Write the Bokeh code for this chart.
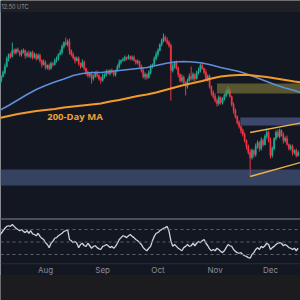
from datetime import datetime, timedelta
from bokeh.plotting import figure
from bokeh.models import Range1d, BoxAnnotation, Label, Span, ColumnDataSource
from bokeh.embed import file_html
from bokeh.resources import INLINE
from bokeh.core.properties import value

# ---------------- data (price in chart units) ----------------
first_day = datetime(2024, 7, 7)
first_open = 133
closes = [
    137, 141, 145, 151, 159, 163, 161, 167, 165, 168,
    166, 163, 165, 167, 162, 164, 161, 165, 160, 163,
    159, 162, 157, 153, 155, 150, 152, 149, 154, 153,
    157, 159, 163, 165, 171, 175, 173, 176, 167, 163,
    160, 157, 159, 154, 151, 155, 149, 145, 142, 144,
    139, 141, 145, 142, 139, 137, 141, 143, 146, 144,
    147, 145, 143, 147, 151, 155, 157, 158, 160, 159,
    161, 159, 160, 157, 155, 156, 151, 147, 141, 143,
    140, 145, 151, 153, 159, 163, 167, 173, 177, 180,
    177, 175, 172, 147, 151, 155, 149, 143, 137, 140,
    135, 131, 137, 141, 139, 143, 139, 145, 147, 152,
    149, 145, 139, 141, 131, 125, 121, 117, 114, 120,
    115, 118, 122, 125, 127, 121, 113, 107, 101, 95,
    91, 87, 83, 77, 71, 65, 60, 67, 63, 71,
    75, 69, 77, 73, 81, 85, 77, 62, 69, 79,
    85, 81, 87, 83, 77, 79, 73, 69, 71, 65,
    67, 62, 65,
]
upper_wicks = [
    2, 1, 2, 3, 2, 1, 2, 8, 2, 1,
    2, 1, 3, 2, 1, 2, 3, 1, 2, 2,
    1, 2, 2, 1, 3, 2, 1, 2, 2, 1,
    2, 2, 1, 3, 2, 1, 5, 2, 3, 1,
    2, 1, 2, 2, 1, 3, 2, 1, 2, 1,
    2, 2, 1, 2, 1, 2, 3, 1, 2, 2,
    1, 2, 2, 1, 2, 3, 1, 2, 2, 1,
    2, 1, 2, 2, 1, 2, 1, 2, 3, 2,
    1, 2, 2, 1, 2, 3, 2, 1, 2, 4,
    2, 3, 2, 2, 3, 1, 2, 2, 1, 3,
    2, 1, 2, 3, 10, 2, 1, 2, 3, 2,
    2, 1, 3, 2, 2, 1, 2, 3, 2, 2,
    1, 2, 2, 3, 4, 2, 1, 2, 2, 1,
    2, 1, 2, 2, 1, 2, 3, 2, 1, 3,
    2, 1, 3, 2, 2, 4, 2, 3, 2, 1,
    2, 3, 2, 1, 2, 2, 3, 1, 2, 2,
    1, 2, 2,
]
lower_wicks = [
    2, 2, 1, 2, 1, 3, 2, 1, 2, 2,
    1, 2, 2, 1, 3, 2, 1, 2, 2, 1,
    2, 1, 2, 3, 1, 2, 2, 2, 1, 2,
    1, 2, 2, 1, 2, 2, 1, 2, 4, 2,
    2, 3, 1, 2, 2, 1, 2, 3, 2, 2,
    5, 2, 1, 2, 2, 3, 1, 2, 2, 1,
    2, 1, 2, 2, 1, 2, 2, 1, 2, 2,
    1, 2, 2, 1, 2, 2, 1, 2, 2, 3,
    2, 1, 2, 2, 1, 2, 2, 1, 2, 2,
    1, 2, 2, 30, 2, 2, 1, 3, 2, 2,
    3, 9, 2, 1, 2, 2, 3, 1, 2, 2,
    1, 2, 2, 3, 2, 3, 2, 2, 3, 2,
    2, 2, 1, 2, 2, 1, 2, 3, 2, 2,
    2, 3, 2, 2, 3, 2, 19, 2, 3, 2,
    2, 3, 2, 2, 1, 2, 2, 3, 2, 2,
    2, 1, 2, 2, 3, 2, 1, 2, 2, 3,
    2, 2, 1,
]
rsi_values = [
    60, 64, 68, 72, 75, 76, 75, 78, 75, 72,
    70, 68, 70, 67, 65, 68, 64, 68, 63, 62,
    60, 64, 59, 56, 54, 49, 46, 41, 48, 51,
    56, 57, 60, 62, 64, 67, 68, 70, 54, 52,
    49, 51, 48, 41, 46, 48, 44, 43, 48, 44,
    40, 43, 44, 41, 39, 38, 43, 44, 46, 44,
    41, 43, 40, 43, 48, 54, 57, 60, 59, 57,
    60, 62, 59, 57, 54, 52, 49, 46, 41, 38,
    36, 40, 43, 52, 59, 64, 65, 68, 70, 72,
    73, 75, 67, 52, 43, 46, 43, 40, 38, 36,
    41, 43, 46, 43, 44, 48, 44, 48, 51, 49,
    52, 54, 48, 44, 39, 36, 38, 36, 40, 38,
    35, 33, 36, 41, 46, 44, 43, 38, 35, 33,
    32, 33, 30, 28, 27, 25, 24, 30, 33, 38,
    41, 38, 43, 41, 44, 48, 46, 38, 41, 43,
    46, 48, 49, 48, 44, 46, 44, 41, 40, 38,
    40, 36, 40,
]
ma_day_offsets = list(range(0, 161, 5)) + [164]
ma_100 = [107, 112, 117.5, 123, 128, 132, 135.5, 138.5, 142, 144,
          145, 145, 146, 147, 148, 149, 150, 152, 154, 155.5,
          156, 155.5, 154.5, 152.5, 150, 148, 146, 143, 139.5, 136,
          132.5, 129.5, 127, 124.5]
ma_200 = [99.5, 101.5, 103.5, 105, 106.5, 107.5, 108.5, 110, 111, 112,
          113, 114, 116, 117.5, 119.5, 121.5, 123, 125, 127.5, 130,
          132.5, 134.5, 136.5, 139, 141, 142, 142.5, 142.5, 141.5, 140.5,
          139, 137.5, 136, 135]
month_labels = ["Aug", "Sep", "Oct", "Nov", "Dec"]
month_starts = [datetime(2024, m, 1) for m in (8, 9, 10, 11, 12)]

support_zone = {"from": datetime(2024, 6, 1), "to": datetime(2025, 1, 31), "low": 32, "high": 48}
supply_zone = {"from": datetime(2024, 11, 2), "to": datetime(2025, 1, 31), "low": 124, "high": 134}
mid_zone = {"from": datetime(2024, 11, 14, 16), "to": datetime(2025, 1, 31), "low": 92, "high": 100}
trend_dates = [datetime(2024, 11, 20), datetime(2024, 12, 17, 8)]
trend_lower = [41, 55]
trend_upper = [85, 94.5]
rsi_levels = [70, 50, 30]
ma_label_date = datetime(2024, 8, 17)
ma_label_price = 101

# ---------------- derived candle table ----------------
days = [first_day + timedelta(days=i) for i in range(len(closes))]
opens = [first_open] + closes[:-1]
highs = [max(o, c) + w for o, c, w in zip(opens, closes, upper_wicks)]
lows = [min(o, c) - w for o, c, w in zip(opens, closes, lower_wicks)]
up = [c >= o for o, c in zip(opens, closes)]
UP, DOWN = "#22ab94", "#f23645"
colors = [UP if u else DOWN for u in up]
src = ColumnDataSource(dict(x=days, o=opens, c=closes, h=highs, l=lows, col=colors,
                            top=[max(o, c) for o, c in zip(opens, closes)],
                            bot=[min(o, c) for o, c in zip(opens, closes)]))
ma_dates = [first_day + timedelta(days=d) for d in ma_day_offsets]


def ms(d):
    return (d - datetime(1970, 1, 1)).total_seconds() * 1000.0


# ---------------- figure ----------------
BG = "#131722"
p = figure(width=300, height=300, x_axis_type="datetime",
           x_range=Range1d(first_day + timedelta(days=0.6), first_day + timedelta(days=163.3)),
           y_range=Range1d(-83, 217),
           x_axis_location=None, y_axis_location=None,
           toolbar_location=None, output_backend="svg", min_border=0)
p.extra_y_ranges = {"rsi": Range1d(-43.6, 436.4), "px": Range1d(300, 0)}
p.extra_x_ranges = {"px": Range1d(0, 300)}
p.background_fill_color = BG
p.border_fill_color = BG
p.outline_line_color = None
p.grid.visible = False

# candles
p.segment(x0="x", x1="x", y0="l", y1="h", color="col", line_width=1, source=src)
p.vbar(x="x", width=0.62 * 86400000, top="top", bottom="bot", fill_color="col",
       line_color="col", line_width=0.5, source=src)

# zones (semi transparent, over candles)
for z, col in ((support_zone, "#4d5f8c"), (supply_zone, "#85803c"), (mid_zone, "#5a679e")):
    p.quad(left=[z["from"]], right=[z["to"]], bottom=[z["low"]], top=[z["high"]],
           fill_color=col, fill_alpha=0.6, line_color=None)

# moving averages
p.line(ma_dates, ma_100, line_color="#5f8fdc", line_width=1.5)
p.line(ma_dates, ma_200, line_color="#f39a2a", line_width=2)

# trend lines
p.line(trend_dates, trend_lower, line_color="#f2b44a", line_width=1.3)
p.line(trend_dates, trend_upper, line_color="#f2b44a", line_width=1.3)

p.add_layout(Label(x=ms(ma_label_date), y=ma_label_price, text="200-Day MA", text_align="center",
                   text_baseline="middle", text_color="#f0a033", text_font_size="9.5px",
                   text_font_style="bold", text_font="Open Sans"))

# pane chrome
p.add_layout(BoxAnnotation(top=0, bottom=11.5, y_range_name="px", fill_color="#1e2025",
                           fill_alpha=1, line_color=None))
p.add_layout(BoxAnnotation(top=217.6, bottom=219.6, y_range_name="px", fill_color="#4a4e59",
                           fill_alpha=1, line_color=None))
p.add_layout(BoxAnnotation(top=262.8, bottom=263.8, y_range_name="px", fill_color="#2a2e39",
                           fill_alpha=1, line_color=None))
p.add_layout(BoxAnnotation(top=274.5, bottom=300, y_range_name="px", fill_color="#1c1c1f",
                           fill_alpha=1, line_color=None))
p.add_layout(Label(x=1, y=6, x_range_name="px", y_range_name="px", text="12:50 UTC",
                   text_baseline="middle", text_align="left", text_color="#9598a1",
                   text_font_size="5.5px", text_font="Inter"))

# RSI pane
for lvl in rsi_levels:
    p.add_layout(Span(location=lvl, dimension="width", y_range_name="rsi",
                      line_color="#5d606b", line_dash="3 3", line_width=1))
p.line(days, rsi_values, y_range_name="rsi", line_color="#cfd3de", line_width=1.3)

# time axis labels
p.text(x=month_starts, y=[269] * len(month_starts), text=month_labels, y_range_name="px",
       text_align="center", text_baseline="middle", text_color="#8b8f99",
       text_font_size="8px", text_font=value("Inter"))

open("out.html", "w").write(file_html(p, INLINE))
